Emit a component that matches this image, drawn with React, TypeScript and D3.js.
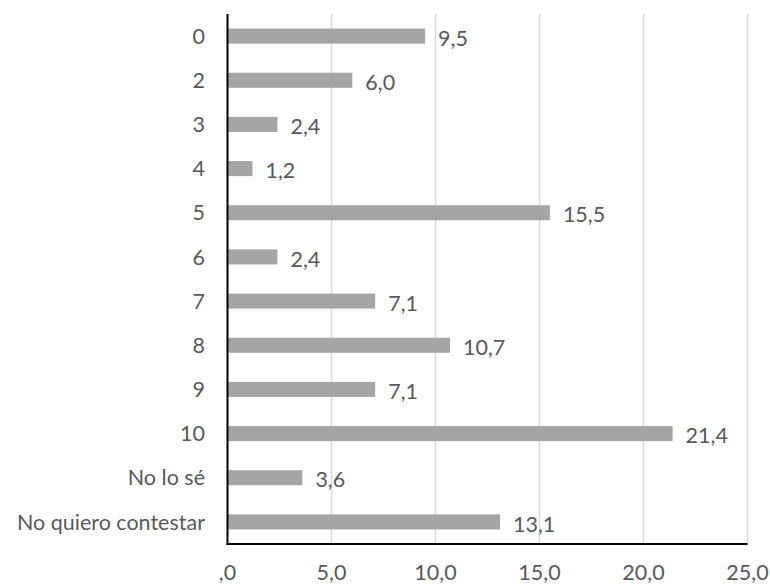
import React from "react";
import * as d3 from "d3";

const categories = ["0", "2", "3", "4", "5", "6", "7", "8", "9", "10", "No lo sé", "No quiero contestar"];
const values = [9.5, 6.0, 2.4, 1.2, 15.5, 2.4, 7.1, 10.7, 7.1, 21.4, 3.6, 13.1];
const xTicks = [0, 5, 10, 15, 20, 25];

const W = 770;
const H = 585;
const M = { left: 227.5, right: 22.5, top: 14, bottom: 41 };
const FONT = "Lato, 'Open Sans', sans-serif";
const FS = 21.5;
const TXT = "#595959";

const fmt = (v: number) => {
  const s = v.toFixed(1).replace(".", ",");
  return s.startsWith("0,") ? s.slice(1) : s;
};

export default function App() {
  const x = d3.scaleLinear().domain([0, 25]).range([M.left, W - M.right]);
  const y = d3
    .scaleBand<string>()
    .domain(categories)
    .range([M.top, H - M.bottom])
    .paddingInner(0.66)
    .paddingOuter(0.33);
  const bottom = H - M.bottom;

  return (
    <svg
      width={W}
      height={H}
      style={{ position: "absolute", left: 0, top: 0, background: "#fff" }}
      fontFamily={FONT}
    >
      {xTicks.slice(1).map((t) => (
        <line key={"g" + t} x1={x(t)} x2={x(t)} y1={M.top} y2={bottom} stroke="#d9d9d9" strokeWidth={1.5} />
      ))}
      {categories.map((c, i) => (
        <g key={c}>
          <rect
            x={x(0)}
            y={y(c)!}
            width={x(values[i]) - x(0)}
            height={y.bandwidth()}
            fill="#a5a5a5"
          />
          <text
            x={x(values[i]) + 13}
            y={y(c)! + y.bandwidth() / 2}
            dy="0.45em"
            fontSize={FS}
            fill={TXT}
          >
            {fmt(values[i])}
          </text>
          <text
            x={205}
            y={y(c)! + y.bandwidth() / 2}
            dy="0.36em"
            textAnchor="end"
            fontSize={FS}
            fill={TXT}
          >
            {c}
          </text>
        </g>
      ))}
      <line x1={x(0)} x2={x(0)} y1={M.top} y2={bottom + 1} stroke="#000" strokeWidth={2} />
      <line x1={x(0) - 1} x2={x(25)} y1={bottom} y2={bottom} stroke="#000" strokeWidth={2} />
      {xTicks.map((t) => (
        <text key={"t" + t} x={x(t)} y={580} textAnchor="middle" fontSize={FS} fill={TXT}>
          {fmt(t)}
        </text>
      ))}
    </svg>
  );
}
